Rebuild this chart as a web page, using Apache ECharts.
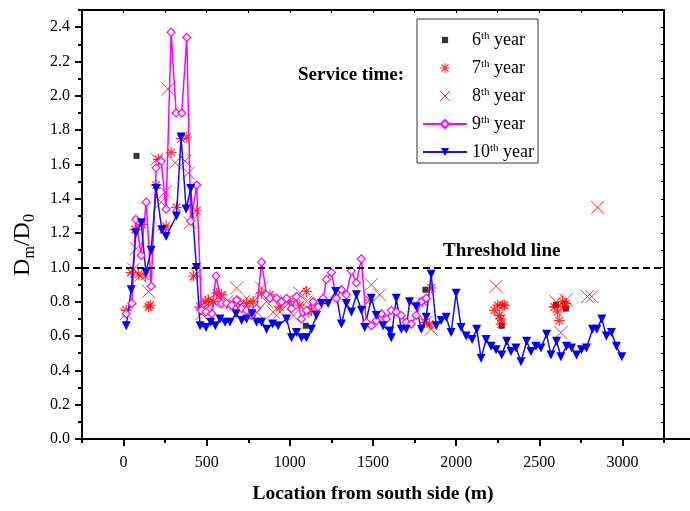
<!DOCTYPE html>
<html>
<head>
<meta charset="utf-8">
<script src="https://cdn.jsdelivr.net/npm/echarts@6/dist/echarts.min.js"></script>
<style>
  html, body { margin: 0; padding: 0; background: #fff; }
  #chart { width: 690px; height: 511px; }
</style>
</head>
<body>
<div id="chart"></div>
<script>
// Relative diameter Dm/D0 along the tunnel, by year of service
const seriesNames = ['6th year', '7th year', '8th year', '9th year', '10th year'];

const year6 = [[78,1.65],[1096,0.66],[1815,0.87],[2274,0.66],[2600,0.78],[2660,0.76]];

const year7 = [[16,0.75],[46,0.97],[70,1.22],[90,0.96],[110,1.25],[130,0.95],[150,0.77],[160,0.78],
  [196,1.48],[210,1.63],[240,1.22],[256,1.24],[286,1.67],[318,1.35],[346,1.75],[380,1.76],[420,0.95],
  [440,1.33],[460,0.77],[490,0.80],[510,0.81],[540,0.80],[560,0.85],[590,0.84],[640,0.78],[680,0.80],
  [740,0.79],[780,0.80],[830,0.85],[880,0.84],[940,0.77],[1000,0.80],[1060,0.78],[1100,0.86],[1110,0.74],
  [1130,0.75],[1480,0.81],[1800,0.80],[1810,0.68],[1840,0.67],[1850,0.88],[2230,0.75],[2250,0.78],
  [2260,0.72],[2270,0.70],[2280,0.78],[2290,0.78],[2270,0.67],[2590,0.77],[2610,0.74],[2620,0.69],
  [2640,0.80],[2650,0.77],[2660,0.79]];

const year8 = [[16,0.73],[60,0.99],[76,1.11],[100,0.95],[150,0.86],[200,1.63],[226,1.38],[250,1.44],
  [266,2.04],[310,1.61],[370,1.62],[390,1.55],[400,1.26],[440,0.96],[470,0.73],[500,0.78],[540,0.80],
  [580,0.82],[620,0.80],[680,0.88],[720,0.80],[760,0.80],[800,0.74],[830,0.88],[860,0.80],[900,0.74],
  [940,0.74],[980,0.80],[1020,0.72],[1060,0.85],[1100,0.80],[1490,0.90],[1540,0.84],[1820,0.68],
  [1850,0.64],[2240,0.89],[2600,0.80],[2630,0.62],[2660,0.81],[2790,0.83],[2816,0.83],[2850,1.35]];

const year9 = [[16,0.73],[50,0.79],[74,1.28],[106,1.07],[136,1.38],[166,0.89],[196,1.58],[226,1.62],
  [256,1.34],[286,2.37],[316,1.90],[350,1.90],[380,2.34],[404,1.27],[440,1.48],[468,0.75],[496,0.74],
  [530,0.73],[556,0.95],[590,0.79],[620,0.79],[650,0.78],[680,0.81],[710,0.76],[740,0.75],[770,0.72],
  [800,0.76],[830,1.03],[860,0.84],[880,0.82],[920,0.82],[950,0.80],[980,0.82],[1010,0.76],[1040,0.83],
  [1070,0.70],[1100,0.75],[1140,0.80],[1170,0.77],[1200,0.82],[1220,0.93],[1250,0.97],[1280,0.82],
  [1310,0.87],[1340,0.84],[1370,0.98],[1400,0.91],[1430,1.05],[1460,0.68],[1490,0.66],[1520,0.69],
  [1550,0.73],[1580,0.70],[1610,0.75],[1640,0.74],[1670,0.72],[1700,0.68],[1730,0.67],[1760,0.72],
  [1790,0.80],[1820,0.82]];

const year10 = [[16,0.66],[46,0.87],[74,1.20],[106,1.26],[134,0.97],[166,1.10],[196,1.46],[230,1.22],
  [256,1.18],[318,1.30],[346,1.76],[376,1.34],[404,1.46],[438,1.00],[460,0.66],[496,0.65],[524,0.68],
  [552,0.66],[580,0.70],[610,0.68],[640,0.68],[676,0.73],[710,0.69],[740,0.70],[772,0.73],[800,0.68],
  [830,0.68],[860,0.64],[896,0.67],[930,0.66],[980,0.70],[1010,0.59],[1040,0.62],[1070,0.59],[1100,0.59],
  [1130,0.64],[1160,0.72],[1190,0.79],[1230,0.79],[1276,0.86],[1310,0.67],[1340,0.79],[1370,0.74],
  [1400,0.84],[1430,0.75],[1450,0.65],[1490,0.82],[1520,0.72],[1560,0.66],[1600,0.63],[1610,0.59],
  [1640,0.82],[1670,0.64],[1700,0.64],[1720,0.80],[1760,0.77],[1790,0.64],[1820,0.71],[1850,0.96],
  [1880,0.66],[1910,0.69],[1940,0.71],[1970,0.62],[2000,0.85],[2030,0.65],[2060,0.60],[2096,0.58],
  [2124,0.64],[2150,0.47],[2180,0.58],[2210,0.54],[2240,0.52],[2274,0.49],[2304,0.57],[2330,0.51],
  [2360,0.53],[2390,0.45],[2424,0.57],[2450,0.51],[2480,0.54],[2510,0.53],[2544,0.61],[2570,0.49],
  [2604,0.57],[2630,0.48],[2664,0.54],[2694,0.53],[2724,0.49],[2754,0.52],[2784,0.53],[2820,0.64],
  [2846,0.64],[2876,0.70],[2904,0.60],[2934,0.62],[2964,0.54],[2996,0.48]];

const xTickLabels = [0, 500, 1000, 1500, 2000, 2500, 3000];
const xMinorTicks = [-250, 250, 750, 1250, 1750, 2250, 2750, 3250];
const yTickLabels = [0, 0.2, 0.4, 0.6, 0.8, 1.0, 1.2, 1.4, 1.6, 1.8, 2.0, 2.2, 2.4];
const yMinorTicks = [0.1, 0.3, 0.5, 0.7, 0.9, 1.1, 1.3, 1.5, 1.7, 1.9, 2.1, 2.3, 2.5];
const threshold = 1.0;

const FONT = '"Liberation Serif", "Times New Roman", serif';
const X_MIN = -250, X_MAX = 3250, Y_MIN = 0, Y_MAX = 2.5;
const RED = '#ff0000', MAGENTA = '#ff00ff', BLUE = '#0000ff';
const CLEAR = 'rgba(0,0,0,0)';

const chart = echarts.init(document.getElementById('chart'), null, { renderer: 'canvas' });

const baseX = { type: 'value', min: X_MIN, max: X_MAX, splitLine: { show: false } };
const baseY = { type: 'value', min: Y_MIN, max: Y_MAX, splitLine: { show: false } };
const axisLine = { show: true, onZero: false, lineStyle: { color: '#000', width: 2 } };
const hidden = { show: false };

// marker shapes (stroked paths)
const starPath = 'path://M10,0L10,20M0,10L20,10M3,3L17,17M3,17L17,3';
const crossPath = 'path://M0,0L20,20M20,0L0,20';
// legend icons: leading moveTo points pad the bounding box so the glyph stays small
const squareIcon = 'path://M-3,-3M13,13M0,0L10,0L10,10L0,10Z';

chart.setOption({
  animation: false,
  backgroundColor: '#fff',
  grid: { left: 79, right: 26, top: 10, bottom: 72 },
  legend: {
    data: [
      { name: seriesNames[0], icon: squareIcon, itemStyle: { color: '#000' } },
      { name: seriesNames[1], icon: starPath, itemStyle: { color: CLEAR, borderColor: RED, borderWidth: 1.2 } },
      { name: seriesNames[2], icon: crossPath, itemStyle: { color: CLEAR, borderColor: RED, borderWidth: 1 } },
      { name: seriesNames[3] },
      { name: seriesNames[4] }
    ],
    orient: 'vertical',
    left: 417, top: 19,
    padding: [12, 4, 2, 5],
    itemWidth: 44, itemHeight: 10, itemGap: 10,
    symbolKeepAspect: true,
    borderColor: '#333', borderWidth: 1,
    selectedMode: false,
    formatter: name => name.replace(/^(\d+)th/, '$1{sup|th}'),
    textStyle: {
      fontFamily: FONT, fontSize: 18, lineHeight: 18, color: '#000',
      rich: { sup: { fontFamily: FONT, fontSize: 11, lineHeight: 18, verticalAlign: 'top', color: '#000' } }
    }
  },
  xAxis: [
    Object.assign({}, baseX, {
      position: 'bottom',
      name: 'Location from south side (m)', nameLocation: 'middle', nameGap: 45,
      nameTextStyle: { fontFamily: FONT, fontSize: 19.5, fontWeight: 'bold', color: '#000' },
      axisLine,
      axisTick: { show: true, inside: false, length: 7, lineStyle: { color: '#000', width: 2 }, customValues: xTickLabels },
      axisLabel: { show: true, margin: 16, fontFamily: FONT, fontSize: 16, color: '#000',
        customValues: xTickLabels, formatter: v => String(v) }
    }),
    Object.assign({}, baseX, {
      position: 'bottom', axisLine,
      axisTick: { show: true, inside: false, length: 4, lineStyle: { color: '#000', width: 2 }, customValues: xMinorTicks },
      axisLabel: hidden
    }),
    Object.assign({}, baseX, {
      position: 'top', axisLine,
      axisTick: { show: true, inside: true, length: 3, lineStyle: { color: '#000', width: 1 }, customValues: xTickLabels.concat(xMinorTicks) },
      axisLabel: hidden
    })
  ],
  yAxis: [
    Object.assign({}, baseY, {
      position: 'left',
      name: 'D{sub|m}/D{sub|0}', nameLocation: 'middle', nameGap: 44, nameRotate: 90,
      nameTextStyle: {
        fontFamily: FONT, fontSize: 24, color: '#000', lineHeight: 30, padding: [0, 41, 0, 0],
        rich: { sub: { fontFamily: FONT, fontSize: 16, lineHeight: 30, verticalAlign: 'bottom', color: '#000' } }
      },
      axisLine,
      axisTick: { show: true, inside: false, length: 7, lineStyle: { color: '#000', width: 2 }, customValues: yTickLabels },
      axisLabel: { show: true, margin: 12, fontFamily: FONT, fontSize: 16, color: '#000',
        customValues: yTickLabels, formatter: v => v.toFixed(1) }
    }),
    Object.assign({}, baseY, {
      position: 'left', axisLine,
      axisTick: { show: true, inside: false, length: 4, lineStyle: { color: '#000', width: 2 }, customValues: yMinorTicks },
      axisLabel: hidden
    }),
    Object.assign({}, baseY, {
      position: 'right', axisLine,
      axisTick: { show: true, inside: true, length: 3, lineStyle: { color: '#000', width: 1 }, customValues: yTickLabels.concat(yMinorTicks) },
      axisLabel: hidden
    })
  ],
  graphic: [
    { type: 'line', silent: true, shape: { x1: 664, y1: 439, x2: 690, y2: 439 }, style: { stroke: '#000', lineWidth: 2 } },
    { type: 'text', left: 298, top: 66, style: { text: 'Service time:', font: 'bold 19px ' + FONT, fill: '#000' } },
    { type: 'text', left: 443, top: 242, style: { text: 'Threshold line', font: 'bold 19px ' + FONT, fill: '#000' } }
  ],
  series: [
    {
      name: seriesNames[0], type: 'scatter', data: year6,
      symbol: 'rect', symbolSize: 6,
      itemStyle: { color: '#000' }
    },
    {
      name: seriesNames[1], type: 'scatter', data: year7,
      symbol: starPath, symbolSize: 11,
      itemStyle: { color: CLEAR, borderColor: RED, borderWidth: 1.2 }
    },
    {
      name: seriesNames[2], type: 'scatter', data: year8,
      symbol: crossPath, symbolSize: 13,
      itemStyle: { color: CLEAR, borderColor: RED, borderWidth: 1 }
    },
    {
      name: seriesNames[3], type: 'line', data: year9,
      symbol: 'diamond', symbolSize: 8, showAllSymbol: true,
      lineStyle: { color: MAGENTA, width: 1.5 },
      itemStyle: { color: '#fff', borderColor: MAGENTA, borderWidth: 1.2 }
    },
    {
      name: seriesNames[4], type: 'line', data: year10,
      symbol: 'triangle', symbolRotate: 180, symbolSize: 9, showAllSymbol: true,
      lineStyle: { color: '#1010ff', width: 1.5 },
      itemStyle: { color: BLUE },
      markLine: {
        silent: true, symbol: 'none', label: { show: false },
        lineStyle: { color: '#000', type: [7, 4], width: 2 },
        data: [{ yAxis: threshold }]
      }
    }
  ]
});
</script>
</body>
</html>
